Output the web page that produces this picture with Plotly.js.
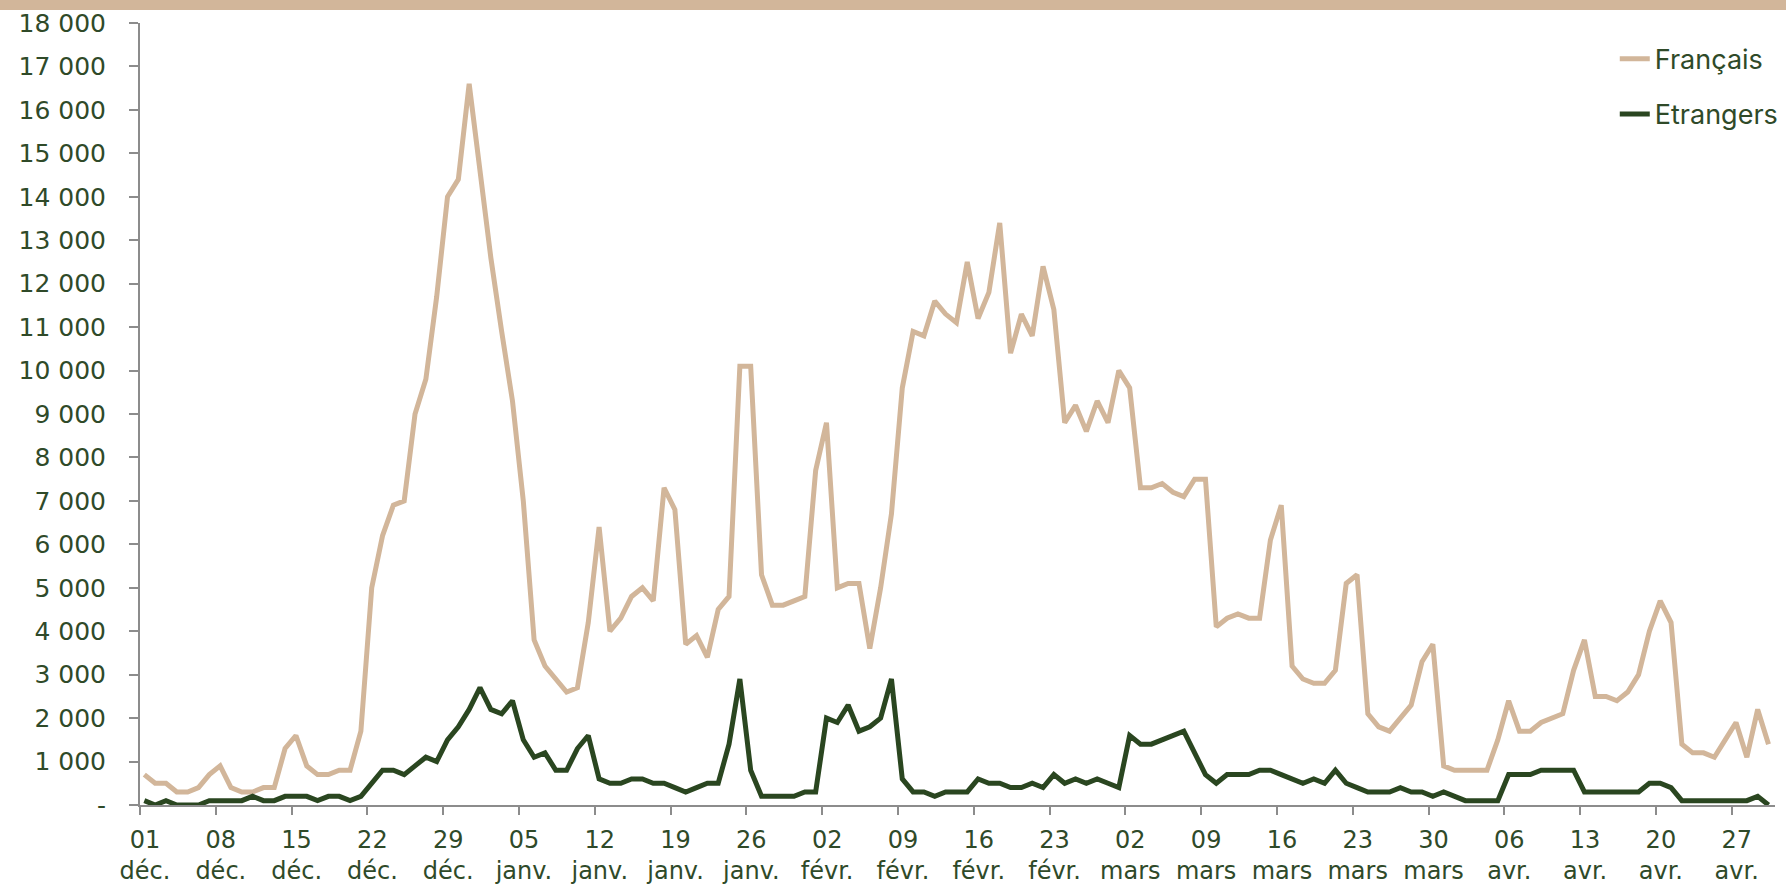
<!DOCTYPE html>
<html>
<head>
<meta charset="utf-8">
<script src="https://cdn.plot.ly/plotly-3.0.1.min.js"></script>
<style>
  html, body { margin: 0; padding: 0; background: #ffffff; }
  #wrap { position: relative; width: 1786px; height: 887px; }
  #band { position: absolute; left: 0; top: 0; width: 1786px; height: 10px; background: #d2b69a; z-index: 5; }
  #chart { position: absolute; left: 0; top: 0; width: 1786px; height: 887px; }
</style>
</head>
<body>
<div id="wrap">
  <div id="chart"></div>
  <div id="band"></div>
</div>
<script>
// ---- Data (daily, from 1 Dec to 30 Apr) ----
const startDate = '2022-12-01';
const dayCount = 151;

const francais = [
  700, 500, 500, 300, 300, 400, 700, 900, 400, 300,
  300, 400, 400, 1300, 1600, 900, 700, 700, 800, 800,
  1700, 5000, 6200, 6900, 7000, 9000, 9800, 11700, 14000, 14400,
  16600, 14600, 12600, 10900, 9300, 7000, 3800, 3200, 2900, 2600,
  2700, 4200, 6400, 4000, 4300, 4800, 5000, 4700, 7300, 6800,
  3700, 3900, 3400, 4500, 4800, 10100, 10100, 5300, 4600, 4600,
  4700, 4800, 7700, 8800, 5000, 5100, 5100, 3600, 5000, 6700,
  9600, 10900, 10800, 11600, 11300, 11100, 12500, 11200, 11800, 13400,
  10400, 11300, 10800, 12400, 11400, 8800, 9200, 8600, 9300, 8800,
  10000, 9600, 7300, 7300, 7400, 7200, 7100, 7500, 7500, 4100,
  4300, 4400, 4300, 4300, 6100, 6900, 3200, 2900, 2800, 2800,
  3100, 5100, 5300, 2100, 1800, 1700, 2000, 2300, 3300, 3700,
  900, 800, 800, 800, 800, 1500, 2400, 1700, 1700, 1900,
  2000, 2100, 3100, 3800, 2500, 2500, 2400, 2600, 3000, 4000,
  4700, 4200, 1400, 1200, 1200, 1100, 1500, 1900, 1100, 2200,
  1400
];

const etrangers = [
  100, 0, 100, 0, 0, 0, 100, 100, 100, 100,
  200, 100, 100, 200, 200, 200, 100, 200, 200, 100,
  200, 500, 800, 800, 700, 900, 1100, 1000, 1500, 1800,
  2200, 2700, 2200, 2100, 2400, 1500, 1100, 1200, 800, 800,
  1300, 1600, 600, 500, 500, 600, 600, 500, 500, 400,
  300, 400, 500, 500, 1400, 2900, 800, 200, 200, 200,
  200, 300, 300, 2000, 1900, 2300, 1700, 1800, 2000, 2900,
  600, 300, 300, 200, 300, 300, 300, 600, 500, 500,
  400, 400, 500, 400, 700, 500, 600, 500, 600, 500,
  400, 1600, 1400, 1400, 1500, 1600, 1700, 1200, 700, 500,
  700, 700, 700, 800, 800, 700, 600, 500, 600, 500,
  800, 500, 400, 300, 300, 300, 400, 300, 300, 200,
  300, 200, 100, 100, 100, 100, 700, 700, 700, 800,
  800, 800, 800, 300, 300, 300, 300, 300, 300, 500,
  500, 400, 100, 100, 100, 100, 100, 100, 100, 200,
  0
];

const tickDates = [
  '2022-12-01','2022-12-08','2022-12-15','2022-12-22','2022-12-29',
  '2023-01-05','2023-01-12','2023-01-19','2023-01-26',
  '2023-02-02','2023-02-09','2023-02-16','2023-02-23',
  '2023-03-02','2023-03-09','2023-03-16','2023-03-23','2023-03-30',
  '2023-04-06','2023-04-13','2023-04-20','2023-04-27'
];
const tickLabels = [
  '01<br>déc.','08<br>déc.','15<br>déc.','22<br>déc.','29<br>déc.',
  '05<br>janv.','12<br>janv.','19<br>janv.','26<br>janv.',
  '02<br>févr.','09<br>févr.','16<br>févr.','23<br>févr.',
  '02<br>mars','09<br>mars','16<br>mars','23<br>mars','30<br>mars',
  '06<br>avr.','13<br>avr.','20<br>avr.','27<br>avr.'
];

const yTickValues = [0,1000,2000,3000,4000,5000,6000,7000,8000,9000,10000,11000,12000,13000,14000,15000,16000,17000,18000];
const yTickLabels = ['-','1 000','2 000','3 000','4 000','5 000','6 000','7 000','8 000','9 000','10 000','11 000','12 000','13 000','14 000','15 000','16 000','17 000','18 000'];

// ---- Build dates ----
const DAY = 86400000;
const t0 = Date.parse(startDate + 'T00:00:00Z');
const dates = [];
for (let i = 0; i < dayCount; i++) {
  dates.push(new Date(t0 + i * DAY).toISOString().slice(0, 10));
}
const tickPos = tickDates.map(d => Date.parse(d + 'T00:00:00Z') - 0.4 * DAY);

const textColor = '#2f4a29';
const axisColor = '#8c8c8c';

const traces = [
  {
    x: dates, y: francais, name: 'Français', type: 'scatter', mode: 'lines',
    line: { color: '#d2b69a', width: 5 }, cliponaxis: false, legendgroup: 'a'
  },
  {
    x: dates, y: etrangers, name: 'Etrangers', type: 'scatter', mode: 'lines',
    line: { color: '#2a4620', width: 5 }, cliponaxis: false, legendgroup: 'b'
  }
];

const layout = {
  width: 1786, height: 887,
  margin: { l: 140, r: 11, t: 22.6, b: 82, autoexpand: false },
  paper_bgcolor: '#ffffff', plot_bgcolor: '#ffffff',
  font: { family: 'DejaVu Sans, sans-serif', color: textColor, size: 24 },
  showlegend: true,
  legend: {
    x: 0.902, y: 0.985, xanchor: 'left', yanchor: 'top',
    font: { family: 'Inter, sans-serif', size: 27, color: textColor },
    bgcolor: 'rgba(0,0,0,0)', traceorder: 'grouped', tracegroupgap: 17
  },
  xaxis: {
    type: 'date',
    range: [t0 - 0.4 * DAY, t0 + 150.6 * DAY],
    tickmode: 'array', tickvals: tickPos, ticktext: tickLabels,
    ticks: 'outside', ticklen: 8, tickwidth: 2, tickcolor: axisColor,
    showline: true, linecolor: axisColor, linewidth: 2,
    showgrid: false, zeroline: false,
    tickfont: { family: 'DejaVu Sans, sans-serif', size: 24, color: textColor },
    ticklabelshift: 5, ticklabelstandoff: 4,
    layer: 'below traces', fixedrange: true, automargin: false
  },
  yaxis: {
    range: [0, 18000],
    tickmode: 'array', tickvals: yTickValues, ticktext: yTickLabels,
    ticks: 'outside', ticklen: 9, tickwidth: 2, tickcolor: axisColor,
    showline: true, linecolor: axisColor, linewidth: 2,
    showgrid: false, zeroline: false,
    tickfont: { family: 'DejaVu Sans, sans-serif', size: 25, color: textColor },
    ticklabelstandoff: 18,
    layer: 'below traces', fixedrange: true, automargin: false
  }
};

Plotly.newPlot('chart', traces, layout, { displayModeBar: false, staticPlot: true });
</script>
</body>
</html>
